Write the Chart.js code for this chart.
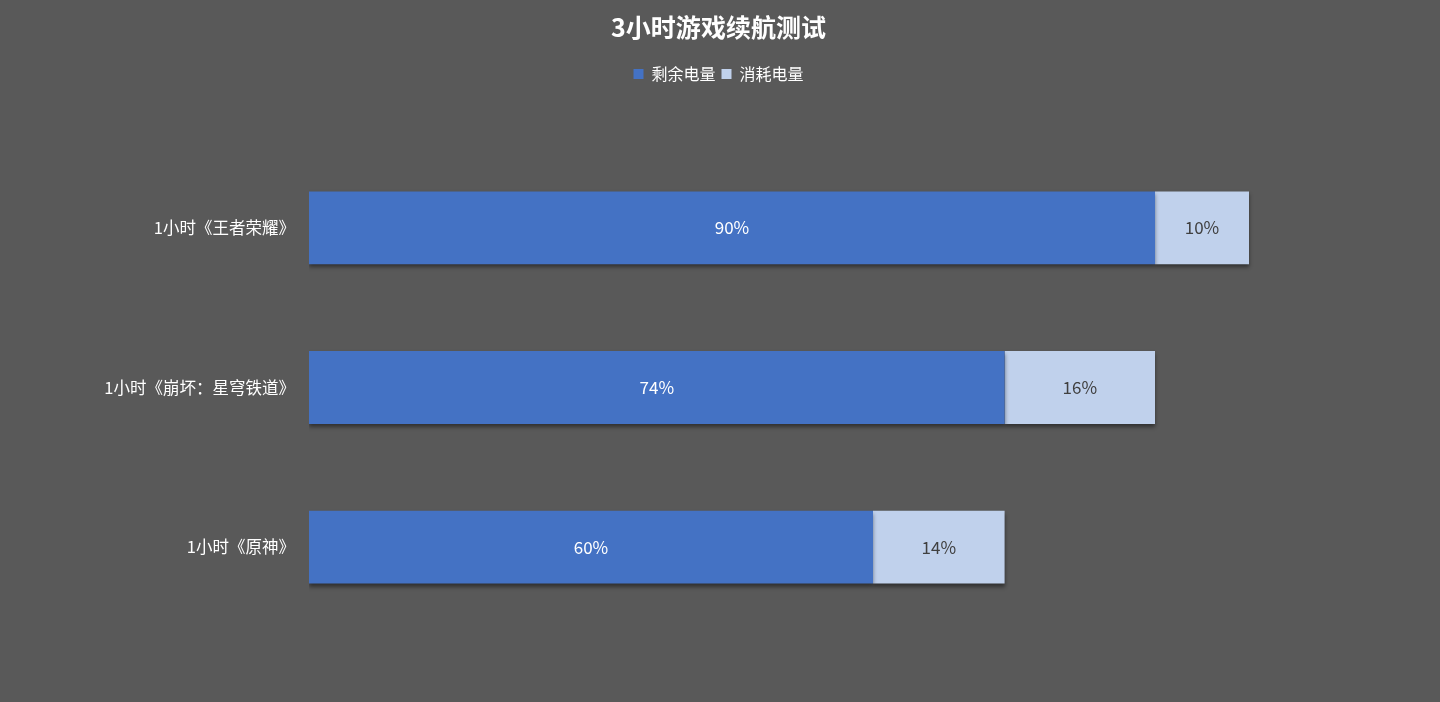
<!DOCTYPE html>
<html>
<head>
<meta charset="utf-8">
<script src="https://cdn.jsdelivr.net/npm/chart.js@4"></script>
<style>
  html, body { margin: 0; padding: 0; background: #595959; }
  #wrap { width: 1440px; height: 702px; }
</style>
</head>
<body>
<div id="wrap"><canvas id="chart"></canvas></div>
<script>
const categories = ['1小时《王者荣耀》', '1小时《崩坏：星穹铁道》', '1小时《原神》'];
const remaining = [90, 74, 60];
const consumed = [10, 16, 14];
const seriesNames = ['剩余电量', '消耗电量'];

const FONT = '"Noto Sans CJK SC", "Noto Sans", sans-serif';

// soft drop shadow under the bars
const barShadow = {
  id: 'barShadow',
  beforeDatasetsDraw(chart){
    const ctx = chart.ctx;
    ctx.save();
    ctx.shadowColor = 'rgba(0,0,0,0.45)';
    ctx.shadowBlur = 4;
    ctx.shadowOffsetX = 0;
    ctx.shadowOffsetY = 3;
  },
  afterDatasetsDraw(chart){
    chart.ctx.restore();
  }
};

// value labels centered in each segment
const segLabels = {
  id: 'segLabels',
  afterDraw(chart){
    const ctx = chart.ctx;
    ctx.save();
    ctx.font = '17px ' + FONT;
    ctx.textAlign = 'center';
    ctx.textBaseline = 'middle';
    chart.data.datasets.forEach((ds, i) => {
      const meta = chart.getDatasetMeta(i);
      meta.data.forEach((bar, j) => {
        const x = (bar.x + bar.base) / 2;
        ctx.fillStyle = i === 0 ? '#ffffff' : '#404040';
        ctx.fillText(ds.data[j] + '%', x, bar.y);
      });
    });
    ctx.restore();
  }
};

// extra room under the legend
const legendGap = {
  id: 'legendGap',
  beforeInit(chart){
    const fit = chart.legend.fit;
    chart.legend.fit = function(){
      fit.call(this);
      this.height += 56;
    };
  }
};

new Chart(document.getElementById('chart'), {
  type: 'bar',
  data: {
    labels: categories,
    datasets: [
      { label: seriesNames[0], data: remaining, backgroundColor: '#4472C4' },
      { label: seriesNames[1], data: consumed, backgroundColor: '#C0D1EC' }
    ]
  },
  options: {
    indexAxis: 'y',
    responsive: true,
    maintainAspectRatio: false,
    animation: false,
    layout: { padding: { left: 0, right: 3, top: 0, bottom: 75 } },
    datasets: { bar: { categoryPercentage: 1, barPercentage: 0.456, borderWidth: 0 } },
    plugins: {
      tooltip: { enabled: false },
      title: {
        display: true,
        text: '3小时游戏续航测试',
        color: '#ffffff',
        font: { family: FONT, size: 25, weight: 'bold' },
        padding: { top: 12, bottom: 18 }
      },
      legend: {
        display: true,
        labels: {
          color: '#ffffff',
          font: { family: FONT, size: 16 },
          boxWidth: 10,
          boxHeight: 10,
          padding: 6
        }
      }
    },
    scales: {
      x: {
        stacked: true,
        min: 0,
        max: 120,
        display: false
      },
      y: {
        stacked: true,
        grid: { display: false },
        border: { display: false },
        ticks: {
          color: '#ffffff',
          font: { family: FONT, size: 16.5 },
          padding: 6
        },
        afterFit(scale){ scale.width = 309; }
      }
    }
  },
  plugins: [barShadow, segLabels, legendGap]
});
</script>
</body>
</html>
